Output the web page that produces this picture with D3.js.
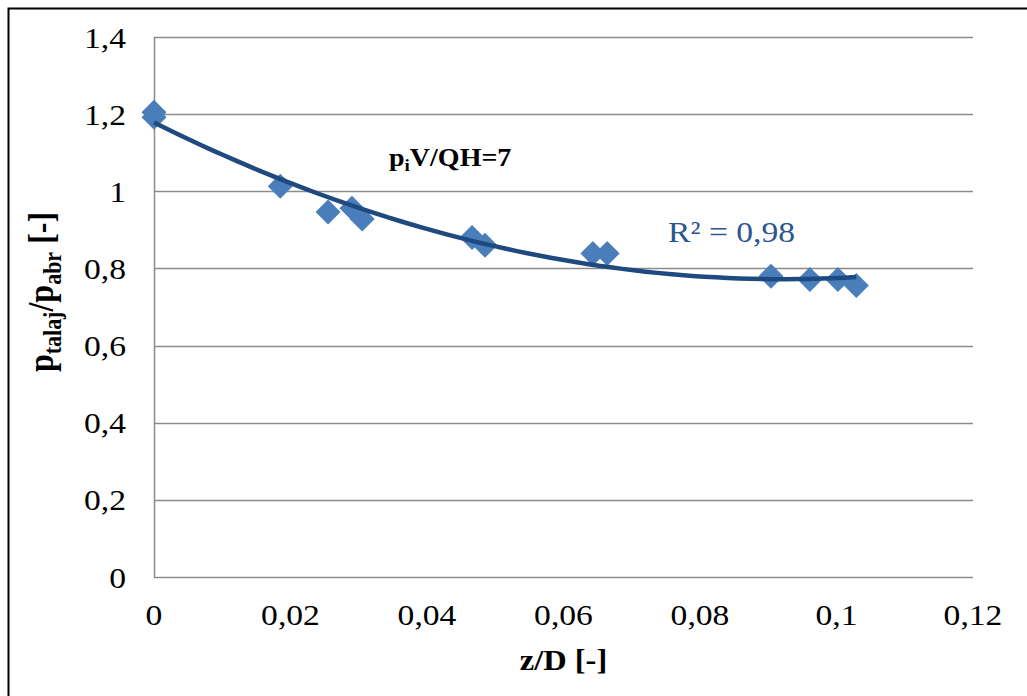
<!DOCTYPE html>
<html><head><meta charset="utf-8">
<script src="https://cdn.jsdelivr.net/npm/d3@7"></script>
<style>body{margin:0;background:#fff}svg{display:block}</style>
</head><body>
<svg id="c" width="1027" height="696"></svg>
<script>
const zD = [0, 0, 0.0185, 0.0255, 0.029, 0.0305, 0.0466, 0.0485, 0.0643, 0.0664, 0.0904, 0.0961, 0.1002, 0.1029];
const ratio = [1.205, 1.192, 1.013, 0.946, 0.956, 0.928, 0.880, 0.860, 0.839, 0.839, 0.780, 0.771, 0.771, 0.756];
const xTicks = [0, 0.02, 0.04, 0.06, 0.08, 0.1, 0.12];
const yTicks = [0, 0.2, 0.4, 0.6, 0.8, 1.0, 1.2, 1.4];
const annotation = "7";
const r2Label = "0,98";

const svg = d3.select("#c");
const L = 154, R = 973, T = 37, B = 577;
const SX = 1.12;
const x = d3.scaleLinear().domain([0, 0.12]).range([L, R]);
const y = d3.scaleLinear().domain([0, 1.4]).range([B, T]);
const fmt = v => String(+v.toFixed(2)).replace(".", ",");
const tr = (px, py) => `translate(${px},${py}) scale(${SX},1)`;

svg.append("rect").attr("x", 0).attr("y", 0).attr("width", 1027).attr("height", 696).attr("fill", "#fff");
svg.append("rect").attr("x", 8.5).attr("y", 8.5).attr("width", 1040).attr("height", 720)
  .attr("fill", "none").attr("stroke", "#000").attr("stroke-width", 2);

// grid
svg.append("g").selectAll("line").data(yTicks.filter(d => d > 0)).join("line")
  .attr("x1", L).attr("x2", R).attr("y1", d => Math.round(y(d)) + 0.5).attr("y2", d => Math.round(y(d)) + 0.5)
  .attr("stroke", "#8c8c8c").attr("stroke-width", 1.5);
// axes
svg.append("line").attr("x1", L + 0.5).attr("x2", L + 0.5).attr("y1", T).attr("y2", B + 0.5).attr("stroke", "#8c8c8c").attr("stroke-width", 1.5);
svg.append("line").attr("x1", L).attr("x2", R).attr("y1", B + 0.5).attr("y2", B + 0.5).attr("stroke", "#8c8c8c").attr("stroke-width", 1.5);

const tickFont = "'Liberation Serif','Times New Roman',serif";
svg.append("g").selectAll("text").data(yTicks).join("text")
  .attr("transform", d => tr(126, y(d))).attr("dy", "0.35em").attr("text-anchor", "end")
  .attr("font-family", tickFont).attr("font-size", 30).attr("fill", "#000").text(fmt);
svg.append("g").selectAll("text").data(xTicks).join("text")
  .attr("transform", d => tr(x(d), 625)).attr("text-anchor", "middle")
  .attr("font-family", tickFont).attr("font-size", 30).attr("fill", "#000").text(fmt);

// quadratic least squares trendline
function polyfit(xs, ys, deg) {
  const n = deg + 1;
  const A = Array.from({length: n}, () => new Array(n + 1).fill(0));
  xs.forEach((xv, k) => {
    for (let i = 0; i < n; i++) {
      for (let j = 0; j < n; j++) A[i][j] += Math.pow(xv, i + j);
      A[i][n] += ys[k] * Math.pow(xv, i);
    }
  });
  for (let i = 0; i < n; i++) {
    let p = i;
    for (let r = i + 1; r < n; r++) if (Math.abs(A[r][i]) > Math.abs(A[p][i])) p = r;
    [A[i], A[p]] = [A[p], A[i]];
    for (let r = 0; r < n; r++) if (r !== i) {
      const f = A[r][i] / A[i][i];
      for (let c = i; c <= n; c++) A[r][c] -= f * A[i][c];
    }
  }
  return A.map((row, i) => row[n] / row[i]);
}
const coef = polyfit(zD, ratio, 2);
const fx = v => coef.reduce((s, c, i) => s + c * Math.pow(v, i), 0);
const xmin = d3.min(zD), xmax = d3.max(zD);
const trendX = d3.range(0, 61).map(i => xmin + (xmax - xmin) * i / 60);

// markers
const dsz = 12.5;
svg.append("g").selectAll("path").data(zD.map((d, i) => [d, ratio[i]])).join("path")
  .attr("d", d => { const cx = x(d[0]), cy = y(d[1]);
    return `M${cx},${cy - dsz}L${cx + dsz},${cy}L${cx},${cy + dsz}L${cx - dsz},${cy}Z`; })
  .attr("fill", "#4a7ebb");

svg.append("path").datum(trendX)
  .attr("d", d3.line().x(d => x(d)).y(d => y(fx(d))))
  .attr("fill", "none").attr("stroke", "#1f4a7f").attr("stroke-width", 4.5);

// annotations
const ann = svg.append("text").attr("transform", tr(389, 166))
  .attr("font-family", tickFont).attr("font-size", 25).attr("font-weight", "bold").attr("fill", "#000");
ann.append("tspan").text("p");
ann.append("tspan").attr("font-size", 17).attr("dy", 5).text("i");
ann.append("tspan").attr("dy", -5).text("V/QH=" + annotation);

svg.append("text").attr("transform", tr(668, 242))
  .attr("font-family", tickFont).attr("font-size", 30).attr("fill", "#2b568f")
  .text("R² = " + r2Label);

// axis titles
svg.append("text").attr("transform", tr((L + R) / 2, 670)).attr("text-anchor", "middle")
  .attr("font-family", tickFont).attr("font-size", 29).attr("font-weight", "bold").text("z/D [-]");

const yt = svg.append("text").attr("transform", `translate(53,292) scale(${SX},1) rotate(-90)`).attr("text-anchor", "middle")
  .attr("font-family", tickFont).attr("font-size", 32).attr("font-weight", "bold");
yt.append("tspan").text("p");
yt.append("tspan").attr("font-size", 22).attr("dy", 7).text("talaj");
yt.append("tspan").attr("dy", -7).text("/p");
yt.append("tspan").attr("font-size", 22).attr("dy", 7).text("abr");
yt.append("tspan").attr("dy", -7).text(" [-]");
</script>
</body></html>
